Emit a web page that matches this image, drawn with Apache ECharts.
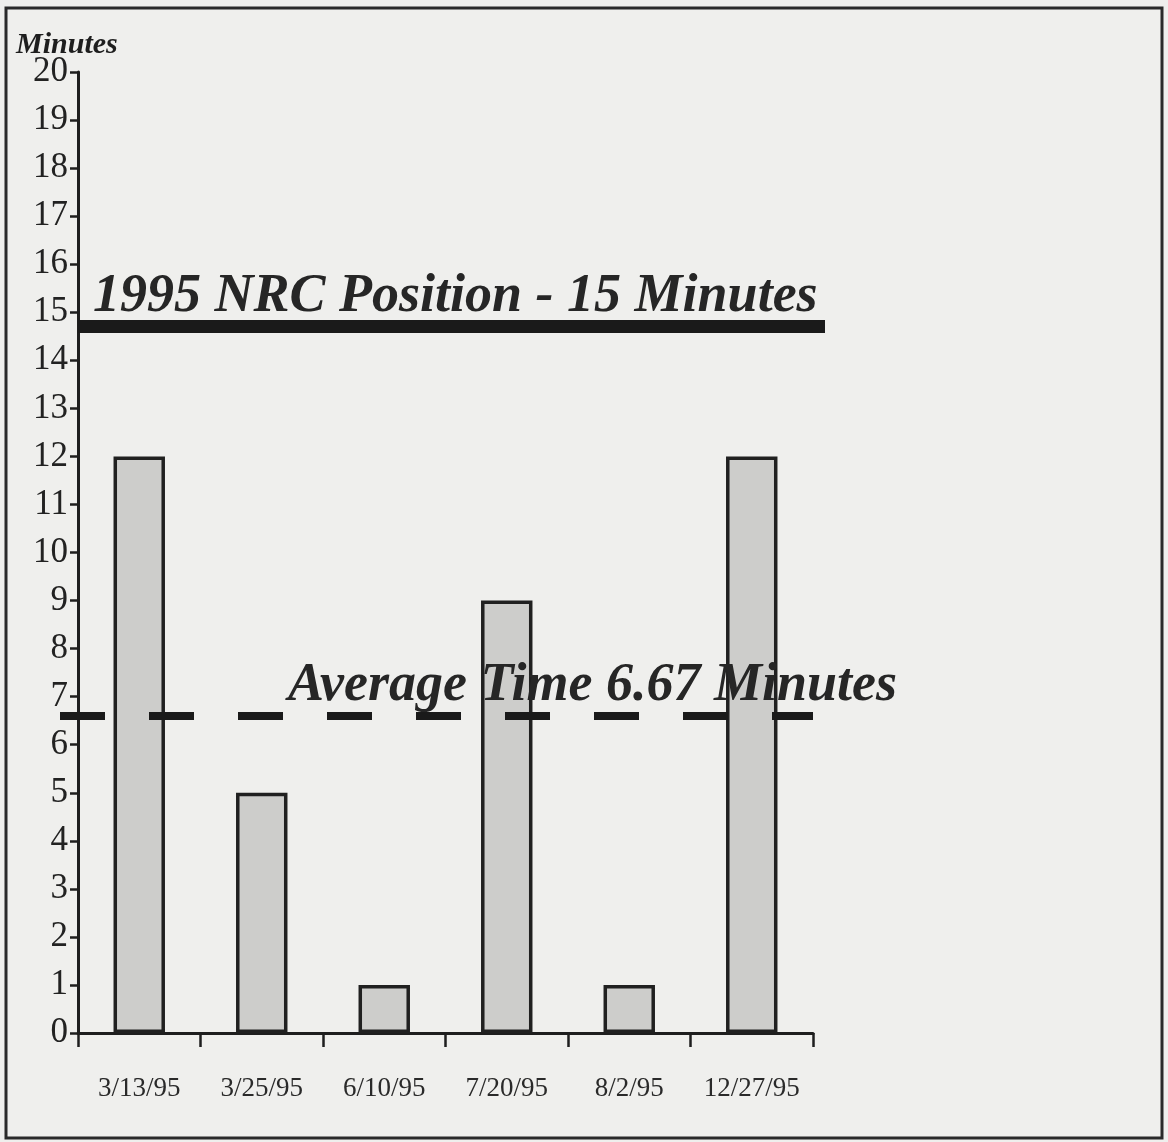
<!DOCTYPE html>
<html>
<head>
<meta charset="utf-8">
<script src="https://cdn.jsdelivr.net/npm/echarts@6/dist/echarts.min.js"></script>
<style>
html,body{margin:0;padding:0;background:#efefed;}
#chart{width:1168px;height:1142px;}
</style>
</head>
<body>
<div id="chart"></div>
<script>
const categories = ['3/13/95', '3/25/95', '6/10/95', '7/20/95', '8/2/95', '12/27/95'];
const minutes = [12, 5, 1, 9, 1, 12];
const yTicks = [0, 1, 2, 3, 4, 5, 6, 7, 8, 9, 10, 11, 12, 13, 14, 15, 16, 17, 18, 19, 20];
const nrcPositionValue = 14.7;
const nrcPositionText = '1995 NRC Position - 15 Minutes';
const averageValue = 6.6;
const averageText = 'Average Time 6.67 Minutes';
const yAxisTitle = 'Minutes';

const serif = '"Liberation Serif", "Times New Roman", serif';
const ink = '#1e1e1e';
const yMin = yTicks[0], yMax = yTicks[yTicks.length - 1];

const chart = echarts.init(document.getElementById('chart'));
chart.setOption({
  backgroundColor: '#efefed',
  animation: false,
  title: {
    text: yAxisTitle, left: 11, top: 25,
    textStyle: { fontFamily: serif, fontStyle: 'italic', fontWeight: 'bold', fontSize: 30, color: ink }
  },
  graphic: [{
    type: 'rect', z: 100,
    shape: { x: 6, y: 8, width: 1156, height: 1130 },
    style: { fill: 'none', stroke: '#2a2a2a', lineWidth: 3 }
  }],
  grid: [
    { left: 78, right: 355, top: 72, bottom: 109 },
    { left: 60, right: 355, top: 72, bottom: 109 },
    { left: 78, right: 343, top: 72, bottom: 109 }
  ],
  xAxis: [
    {
      type: 'category', gridIndex: 0, data: categories,
      axisLine: { lineStyle: { color: ink, width: 3 } },
      axisTick: { show: true, interval: 0, length: 14, lineStyle: { color: ink, width: 2.5 } },
      axisLabel: { interval: 0, hideOverlap: false, margin: 42, fontFamily: serif, fontSize: 27, color: '#2a2a2a' }
    },
    { type: 'category', gridIndex: 1, data: categories, show: false },
    { type: 'category', gridIndex: 2, data: categories, show: false }
  ],
  yAxis: [
    {
      type: 'value', gridIndex: 0, min: yMin, max: yMax, interval: 1,
      splitLine: { show: false },
      axisLine: { show: true, lineStyle: { color: ink, width: 3 } },
      axisTick: { show: true, length: 8, lineStyle: { color: ink, width: 2.5 } },
      axisLabel: { margin: 10, fontFamily: serif, fontSize: 35, color: '#222' }
    },
    { type: 'value', gridIndex: 1, min: yMin, max: yMax, show: false, splitLine: { show: false } },
    { type: 'value', gridIndex: 2, min: yMin, max: yMax, show: false, splitLine: { show: false } }
  ],
  series: [
    {
      type: 'bar', xAxisIndex: 0, yAxisIndex: 0, data: minutes,
      barWidth: '42%', z: 2,
      itemStyle: { color: '#cdcdcb', borderColor: '#202020', borderWidth: 3.5 }
    },
    {
      type: 'line', xAxisIndex: 1, yAxisIndex: 1, data: [], z: 5,
      markLine: {
        silent: true, symbol: 'none',
        lineStyle: { color: '#1a1a1a', width: 8, type: [45, 44], dashOffset: 0 },
        label: {
          show: true, position: 'insideStartTop', distance: [228, 3],
          formatter: averageText,
          fontFamily: serif, fontStyle: 'italic', fontWeight: 'bold', fontSize: 54, color: '#262626'
        },
        data: [{ yAxis: averageValue }]
      }
    },
    {
      type: 'line', xAxisIndex: 2, yAxisIndex: 2, data: [], z: 5,
      markLine: {
        silent: true, symbol: 'none',
        lineStyle: { color: '#1a1a1a', width: 13, type: 'solid' },
        label: {
          show: true, position: 'insideStartTop', distance: [15, 3],
          formatter: nrcPositionText,
          fontFamily: serif, fontStyle: 'italic', fontWeight: 'bold', fontSize: 54, color: '#262626'
        },
        data: [{ yAxis: nrcPositionValue }]
      }
    }
  ]
});
</script>
</body>
</html>
